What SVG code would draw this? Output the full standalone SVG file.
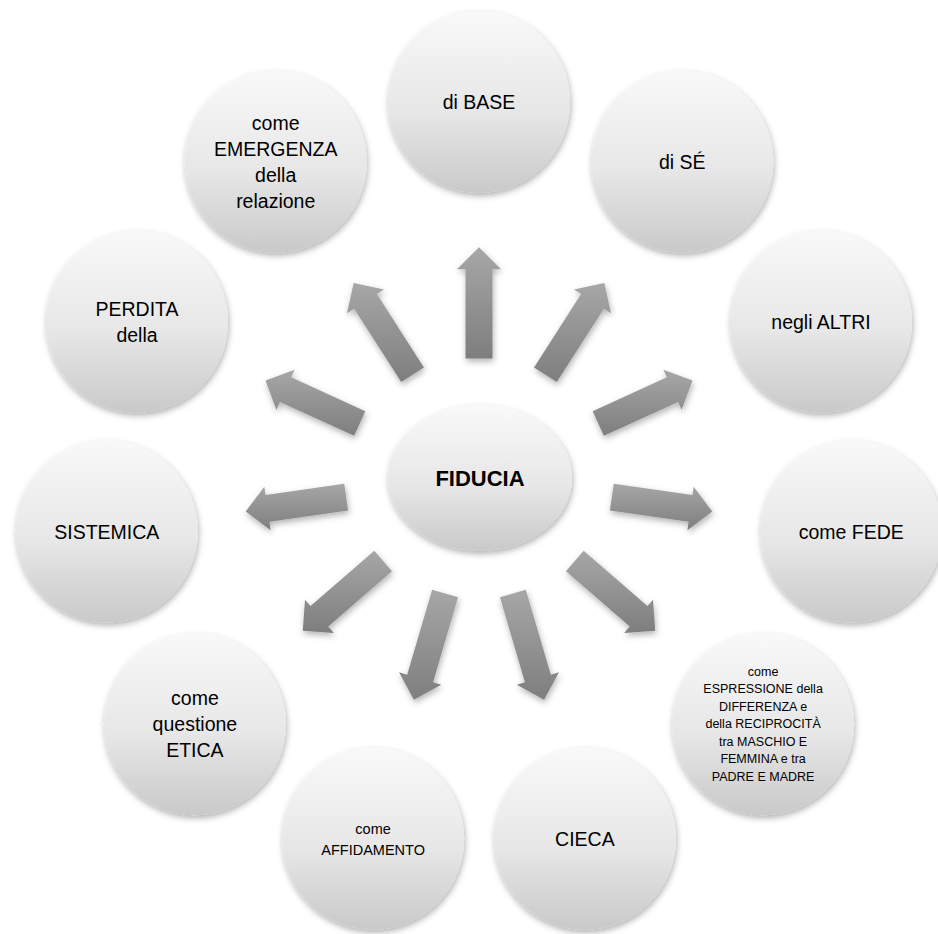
<svg xmlns="http://www.w3.org/2000/svg" width="938" height="934" viewBox="0 0 938 934">
<defs>
<linearGradient id="gCircle" x1="0" y1="0" x2="0" y2="1">
<stop offset="0" stop-color="#f9f9f9"/>
<stop offset="0.55" stop-color="#e7e7e7"/>
<stop offset="1" stop-color="#c9c9c9"/>
</linearGradient>
<linearGradient id="gArrow" x1="0" y1="0" x2="0" y2="1">
<stop offset="0" stop-color="#a7a7a7"/>
<stop offset="1" stop-color="#7e7e7e"/>
</linearGradient>
<filter id="sh" x="-20%" y="-20%" width="140%" height="140%">
<feDropShadow dx="1" dy="3" stdDeviation="3" flood-color="#000" flood-opacity="0.3"/>
</filter>
</defs>
<style>
.c{fill:url(#gCircle);filter:url(#sh)}
.a{fill:url(#gArrow);filter:url(#sh)}
.t{font-family:"Liberation Sans",Arial,sans-serif;font-size:19.5px;fill:#000;text-anchor:middle}
.s{font-size:14.5px}
.xs{font-size:12.5px}
.b{font-weight:bold;font-size:22px}
</style>
<rect width="938" height="934" fill="#fff"/>
<g id="connectors">
<polygon class="a" points="465.5,358.6 465.5,269.3 457,269.3 479,247.3 501,269.3 492.5,269.3 492.5,358.6"/>
<polygon class="a" points="534.03,367.39 581.12,294.12 573.97,289.53 604.37,282.91 610.99,313.31 603.84,308.72 556.75,381.99"/>
<polygon class="a" points="592.64,411.26 666.87,377.36 663.34,369.63 692.49,380.5 681.62,409.65 678.09,401.92 603.86,435.82"/>
<polygon class="a" points="613.75,483.74 692.44,495.05 693.65,486.63 712.3,511.54 687.39,530.19 688.6,521.77 609.91,510.46"/>
<polygon class="a" points="583.67,550.84 647.45,606.11 653.02,599.68 655.24,630.71 624.2,632.94 629.77,626.51 565.99,571.24"/>
<polygon class="a" points="525.84,589.63 550.83,674.73 558.99,672.33 544.08,699.64 516.77,684.73 524.93,682.33 499.94,597.23"/>
<polygon class="a" points="432.16,589.63 407.17,674.73 399.01,672.33 413.92,699.64 441.23,684.73 433.07,682.33 458.06,597.23"/>
<polygon class="a" points="374.33,550.84 310.55,606.11 304.98,599.68 302.76,630.71 333.8,632.94 328.23,626.51 392.01,571.24"/>
<polygon class="a" points="344.25,483.74 265.56,495.05 264.35,486.63 245.7,511.54 270.61,530.19 269.4,521.77 348.09,510.46"/>
<polygon class="a" points="365.36,411.26 291.13,377.36 294.66,369.63 265.51,380.5 276.38,409.65 279.91,401.92 354.14,435.82"/>
<polygon class="a" points="423.97,367.39 376.88,294.12 384.03,289.53 353.63,282.91 347.01,313.31 354.16,308.72 401.25,381.99"/>
</g>
<g id="center">
<ellipse class="c" cx="480" cy="478" rx="92" ry="73"/>
<text class="t b" x="480" y="486">FIDUCIA</text>
</g>
<g id="n-base">
<circle class="c" cx="479" cy="102" r="91"/>
<text class="t" x="479" y="109">di BASE</text>
</g>
<g id="n-se">
<circle class="c" cx="682.3" cy="161.7" r="91"/>
<text class="t" x="682.3" y="168.7">di SÉ</text>
</g>
<g id="n-altri">
<circle class="c" cx="821" cy="321.8" r="91"/>
<text class="t" x="821" y="328.8">negli ALTRI</text>
</g>
<g id="n-fede">
<circle class="c" cx="851.2" cy="531.5" r="91"/>
<text class="t" x="851.2" y="538.5">come FEDE</text>
</g>
<g id="n-espressione">
<circle class="c" cx="763.1" cy="724.2" r="91"/>
<text class="t xs" x="763.1" y="675.5">come</text>
<text class="t xs" x="763.1" y="693">ESPRESSIONE della</text>
<text class="t xs" x="763.1" y="710.5">DIFFERENZA e</text>
<text class="t xs" x="763.1" y="728">della RECIPROCITÀ</text>
<text class="t xs" x="763.1" y="745.5">tra MASCHIO E</text>
<text class="t xs" x="763.1" y="763">FEMMINA e tra</text>
<text class="t xs" x="763.1" y="780.5">PADRE E MADRE</text>
</g>
<g id="n-cieca">
<circle class="c" cx="584.9" cy="838.8" r="91"/>
<text class="t" x="584.9" y="845.8">CIECA</text>
</g>
<g id="n-affidamento">
<circle class="c" cx="373.1" cy="838.8" r="91"/>
<text class="t s" x="373.1" y="834">come</text>
<text class="t s" x="373.1" y="855">AFFIDAMENTO</text>
</g>
<g id="n-etica">
<circle class="c" cx="194.9" cy="724.2" r="91"/>
<text class="t" x="194.9" y="705.2">come</text>
<text class="t" x="194.9" y="731.2">questione</text>
<text class="t" x="194.9" y="757.2">ETICA</text>
</g>
<g id="n-sistemica">
<circle class="c" cx="106.8" cy="531.5" r="91"/>
<text class="t" x="106.8" y="538.5">SISTEMICA</text>
</g>
<g id="n-perdita">
<circle class="c" cx="137" cy="321.8" r="91"/>
<text class="t" x="137" y="315.8">PERDITA</text>
<text class="t" x="137" y="341.8">della</text>
</g>
<g id="n-emergenza">
<circle class="c" cx="275.7" cy="161.7" r="91"/>
<text class="t" x="275.7" y="129.7">come</text>
<text class="t" x="275.7" y="155.7">EMERGENZA</text>
<text class="t" x="275.7" y="181.7">della</text>
<text class="t" x="275.7" y="207.7">relazione</text>
</g>
</svg>
